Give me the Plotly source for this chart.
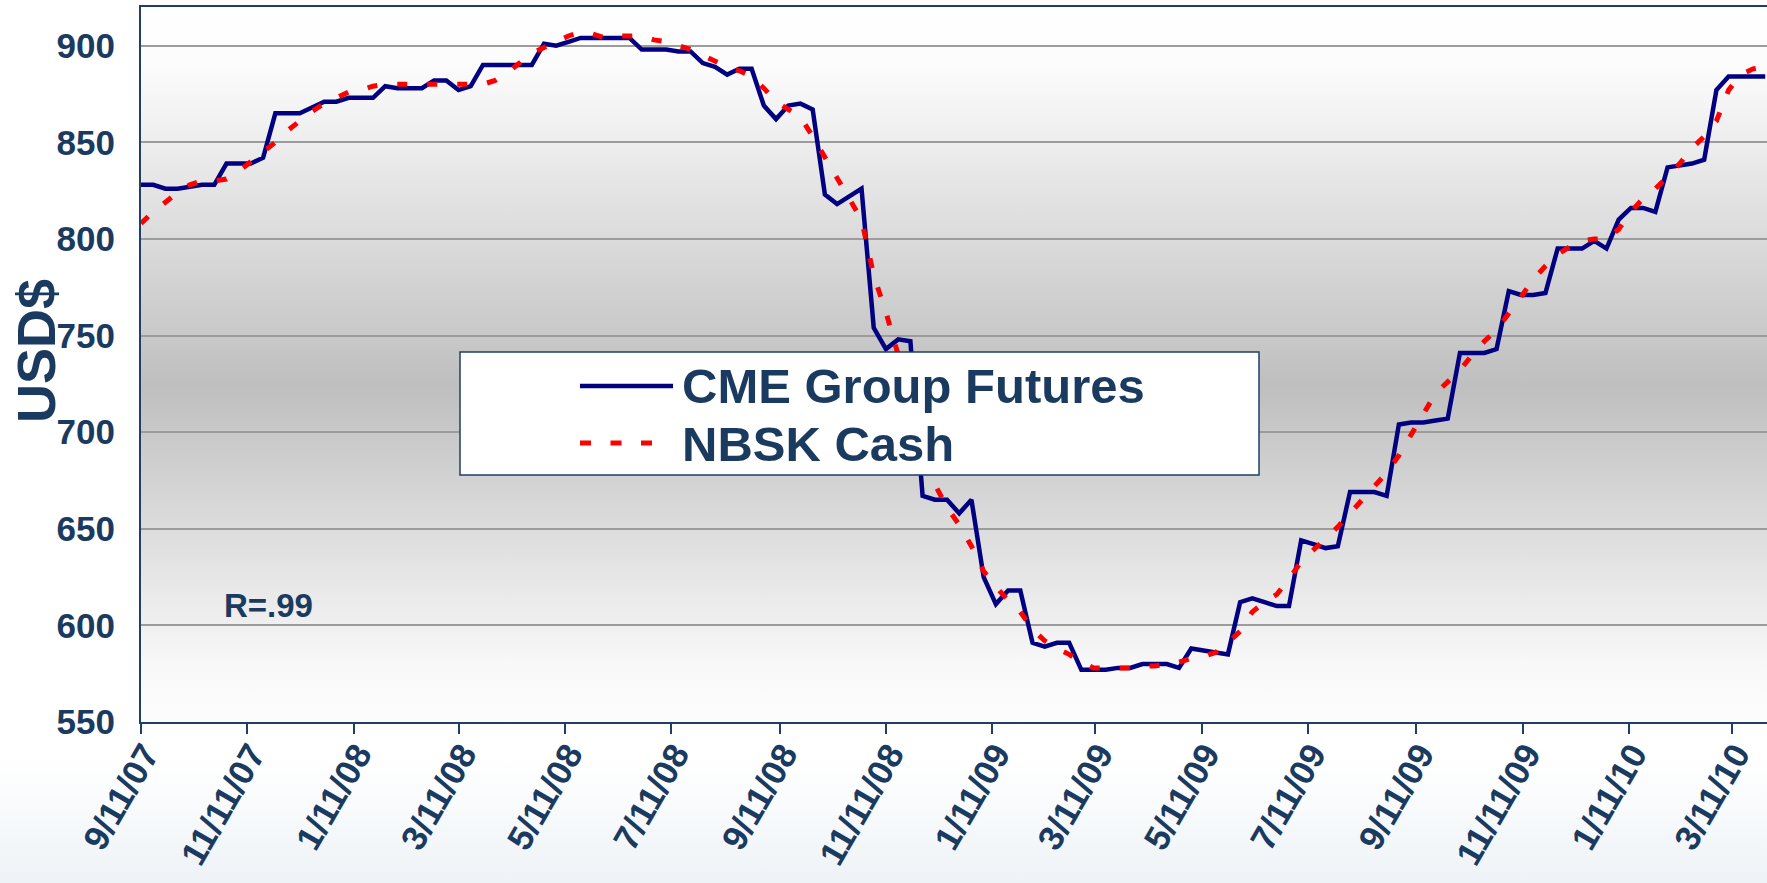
import base64
import plotly.graph_objects as go

# ---------------- data ----------------
dates = [
    "2007-09-11", "2007-09-18", "2007-09-25", "2007-10-02", "2007-10-09", "2007-10-16", "2007-10-23", "2007-10-30",
    "2007-11-06", "2007-11-13", "2007-11-20", "2007-11-27", "2007-12-04", "2007-12-11", "2007-12-18", "2007-12-25",
    "2008-01-01", "2008-01-08", "2008-01-15", "2008-01-22", "2008-01-29", "2008-02-05", "2008-02-12", "2008-02-19",
    "2008-02-26", "2008-03-04", "2008-03-11", "2008-03-18", "2008-03-25", "2008-04-01", "2008-04-08", "2008-04-15",
    "2008-04-22", "2008-04-29", "2008-05-06", "2008-05-13", "2008-05-20", "2008-05-27", "2008-06-03", "2008-06-10",
    "2008-06-17", "2008-06-24", "2008-07-01", "2008-07-08", "2008-07-15", "2008-07-22", "2008-07-29", "2008-08-05",
    "2008-08-12", "2008-08-19", "2008-08-26", "2008-09-02", "2008-09-09", "2008-09-16", "2008-09-23", "2008-09-30",
    "2008-10-07", "2008-10-14", "2008-10-21", "2008-10-28", "2008-11-04", "2008-11-11", "2008-11-18", "2008-11-25",
    "2008-12-02", "2008-12-09", "2008-12-16", "2008-12-23", "2008-12-30",
    "2009-01-06", "2009-01-13", "2009-01-20", "2009-01-27", "2009-02-03", "2009-02-10", "2009-02-17", "2009-02-24",
    "2009-03-03", "2009-03-10", "2009-03-17", "2009-03-24", "2009-03-31", "2009-04-07", "2009-04-14", "2009-04-21",
    "2009-04-28", "2009-05-05", "2009-05-12", "2009-05-19", "2009-05-26", "2009-06-02", "2009-06-09", "2009-06-16",
    "2009-06-23", "2009-06-30", "2009-07-07", "2009-07-14", "2009-07-21", "2009-07-28", "2009-08-04", "2009-08-11",
    "2009-08-18", "2009-08-25", "2009-09-01", "2009-09-08", "2009-09-15", "2009-09-22", "2009-09-29", "2009-10-06",
    "2009-10-13", "2009-10-20", "2009-10-27", "2009-11-03", "2009-11-10", "2009-11-17", "2009-11-24", "2009-12-01",
    "2009-12-08", "2009-12-15", "2009-12-22", "2009-12-29",
    "2010-01-05", "2010-01-12", "2010-01-19", "2010-01-26", "2010-02-02", "2010-02-09", "2010-02-16", "2010-02-23",
    "2010-03-02", "2010-03-09", "2010-03-16", "2010-03-23", "2010-03-30",
]

cme_futures = [
    828, 828, 826, 826, 827, 828, 828, 839, 839, 839, 842, 865, 865, 865, 868, 871,
    871, 873, 873, 873, 879, 878, 878, 878, 882, 882, 877, 879, 890, 890, 890, 890,
    890, 901, 900, 902, 904, 904, 904, 904, 904, 898, 898, 898, 897, 897, 891, 889,
    885, 888, 888, 869, 862, 869, 870, 867, 823, 818, 822, 826, 754, 743, 748, 747,
    667, 665, 665, 658, 665,
    625, 611, 618, 618, 591, 589, 591, 591, 577, 577, 577, 578, 578, 580, 580, 580,
    578, 588, 587, 586, 585, 612, 614, 612, 610, 610, 644, 642, 640, 641, 669, 669,
    669, 667, 704, 705, 705, 706, 707, 741, 741, 741, 743, 773, 771, 771, 772, 795,
    795, 795, 799, 795,
    810, 816, 816, 814, 837, 838, 839, 841, 877, 884, 884, 884, 884,
]

nbsk_cash = [
    808, 814, 819, 824, 828, 830, 830, 831, 835, 840, 845, 850, 856, 861, 866, 870,
    873, 876, 877, 879, 880, 880, 880, 880, 880, 880, 880, 880, 880, 882, 886, 891,
    896, 899, 902, 905, 907, 906, 904, 905, 905, 905, 903, 902, 900, 898, 895, 892,
    889, 887, 884, 878, 871, 867, 863, 853, 842, 831, 820, 810, 781, 762, 740, 718,
    696, 673, 661, 652, 641,
    628, 620, 613, 607, 598, 592, 588, 585, 581, 578, 578, 578, 578, 579, 579, 580,
    581, 583, 584, 586, 591, 597, 607, 612, 616, 624, 633, 639, 645, 651, 658, 665,
    672, 679, 688, 699, 709, 720, 726, 732, 740, 747, 753, 761, 770, 779, 786, 792,
    796, 799, 800, 800,
    805, 814, 821, 826, 832, 839, 847, 853, 861, 877, 885, 888, 889,
]

series_names = ["CME Group Futures", "NBSK Cash"]

x_tick_dates = [
    "2007-09-11", "2007-11-11", "2008-01-11", "2008-03-11", "2008-05-11", "2008-07-11",
    "2008-09-11", "2008-11-11", "2009-01-11", "2009-03-11", "2009-05-11", "2009-07-11",
    "2009-09-11", "2009-11-11", "2010-01-11", "2010-03-11",
]
x_tick_labels = [
    "9/11/07", "11/11/07", "1/11/08", "3/11/08", "5/11/08", "7/11/08",
    "9/11/08", "11/11/08", "1/11/09", "3/11/09", "5/11/09", "7/11/09",
    "9/11/09", "11/11/09", "1/11/10", "3/11/10",
]
y_ticks = [550, 600, 650, 700, 750, 800, 850, 900]

# ---------------- styling ----------------
FONT = "Liberation Sans, Arial, Helvetica, sans-serif"
TEXT = "#1A3A5F"
AXIS = "#1F3F66"
NAVY = "#000080"
RED = "#FF0000"

W, H = 1767, 883
ML, MR, MT, MB = 141, 0, 7, 161
PW, PH = W - ML - MR, H - MT - MB


def gradient_uri(stops):
    s = "".join(f'<stop offset="{o}" stop-color="{c}"/>' for o, c in stops)
    svg = (
        '<svg xmlns="http://www.w3.org/2000/svg" width="10" height="10" viewBox="0 0 10 10" '
        'preserveAspectRatio="none"><defs><linearGradient id="g" x1="0" y1="0" x2="0" y2="1">'
        f"{s}</linearGradient></defs>"
        '<rect x="0" y="0" width="10" height="10" fill="url(#g)"/></svg>'
    )
    return "data:image/svg+xml;base64," + base64.b64encode(svg.encode()).decode()


paper_grad = gradient_uri([(0, "#ffffff"), (0.86, "#ffffff"), (1, "#eef3f7")])
plot_grad = gradient_uri([(0, "#ffffff"), (0.08, "#fcfcfc"), (0.53, "#bfbfbf"), (0.92, "#f8f8f8"), (1, "#fdfdfd")])

fig = go.Figure()
fig.add_trace(go.Scatter(
    x=dates, y=cme_futures, name=series_names[0], mode="lines",
    line=dict(color=NAVY, width=4.5), showlegend=False,
))
fig.add_trace(go.Scatter(
    x=dates, y=nbsk_cash, name=series_names[1], mode="lines",
    line=dict(color=RED, width=5, dash="10px,20px"), showlegend=False,
))


def px_x(px):
    return (px - ML) / PW


def px_y(py):
    return (H - MB - py) / PH


# custom legend (box, samples, labels)
shapes = [
    dict(type="rect", xref="paper", yref="paper",
         x0=px_x(460), x1=px_x(1259), y0=px_y(475), y1=px_y(352),
         fillcolor="white", line=dict(color=AXIS, width=1.5), layer="above"),
    dict(type="line", xref="paper", yref="paper",
         x0=px_x(580), x1=px_x(673), y0=px_y(386), y1=px_y(386),
         line=dict(color=NAVY, width=4.5), layer="above"),
    dict(type="line", xref="paper", yref="paper",
         x0=px_x(580), x1=px_x(662), y0=px_y(443), y1=px_y(443),
         line=dict(color=RED, width=5, dash="11px,19.5px"), layer="above"),
]

annotations = [
    dict(text=series_names[0], xref="paper", yref="paper", x=px_x(680), y=px_y(386),
         xanchor="left", yanchor="middle", showarrow=False,
         font=dict(family=FONT, size=49, color=TEXT, weight="bold")),
    dict(text=series_names[1], xref="paper", yref="paper", x=px_x(680), y=px_y(444),
         xanchor="left", yanchor="middle", showarrow=False,
         font=dict(family=FONT, size=49, color=TEXT, weight="bold")),
    dict(text="R=.99", xref="paper", yref="paper", x=px_x(222), y=px_y(605),
         xanchor="left", yanchor="middle", showarrow=False,
         font=dict(family=FONT, size=33, color=TEXT, weight="bold")),
    # y-axis title
    dict(text="USD$", xref="paper", yref="paper", x=px_x(36), y=px_y(351),
         xanchor="center", yanchor="middle", textangle=-90, showarrow=False,
         font=dict(family=FONT, size=54, color=TEXT, weight="bold")),
]

fig.update_layout(
    width=W, height=H, autosize=False,
    margin=dict(l=ML, r=MR, t=MT, b=MB, pad=0),
    paper_bgcolor="white",
    plot_bgcolor="rgba(0,0,0,0)",
    showlegend=False,
    shapes=shapes,
    annotations=annotations,
    images=[
        dict(source=paper_grad, xref="paper", yref="paper",
             x=-ML / PW, y=1 + MT / PH, sizex=W / PW, sizey=H / PH,
             xanchor="left", yanchor="top", sizing="stretch", layer="below"),
        dict(source=plot_grad, xref="paper", yref="paper",
             x=0, y=1, sizex=1, sizey=1,
             xanchor="left", yanchor="top", sizing="stretch", layer="below"),
    ],
)

fig.update_xaxes(
    type="date",
    range=["2007-09-11", "2010-03-31"],
    tickmode="array", tickvals=x_tick_dates, ticktext=x_tick_labels,
    tickangle=-60,
    tickfont=dict(family=FONT, size=35, color=TEXT, weight="bold"),
    ticks="outside", ticklen=10, tickwidth=2, tickcolor=AXIS,
    showline=True, linecolor=AXIS, linewidth=2, mirror=True,
    showgrid=False, zeroline=False, automargin=False,
    ticklabelstandoff=-14, ticklabelshift=4,
)

fig.update_yaxes(
    range=[550, 920],
    tickmode="array", tickvals=y_ticks,
    tickfont=dict(family=FONT, size=35, color=TEXT, weight="bold"),
    ticks="", ticklabelstandoff=17,
    showline=True, linecolor=AXIS, linewidth=2,
    showgrid=True, gridcolor="#9c9c9c", gridwidth=1.5,
    zeroline=False, automargin=False,
)

fig.write_html(
    "out.html",
    config={"displayModeBar": False},
    post_script="document.body.style.margin='0px';document.body.style.overflow='hidden';",
)
